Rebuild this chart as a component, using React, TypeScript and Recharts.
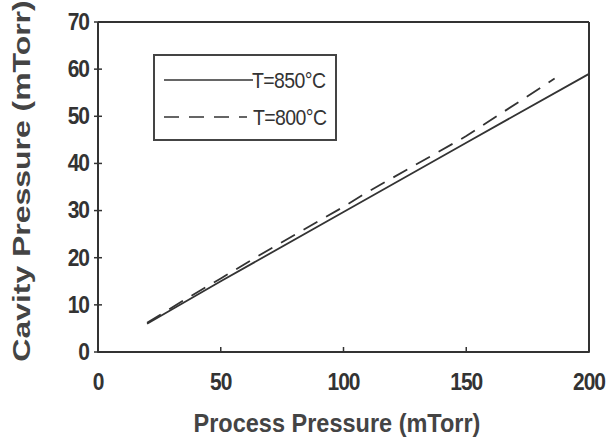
import React from 'react'
import {
  LineChart,
  Line,
  XAxis,
  YAxis,
  ReferenceLine
} from 'recharts'

// valores
const xTicks = [0, 50, 100, 150, 200]
const yTicks = [0, 10, 20, 30, 40, 50, 60, 70]

const solidX = [20, 50, 100, 150, 200]
const solidY = [6, 15, 29.7, 44.4, 59]

const dashX = [20, 35, 50, 65, 100, 110, 150, 186]
const dashY = [6.2, 11, 15.6, 20.3, 30.8, 34, 45.8, 58]

const s850 = solidX.map((x, i) => ({ x, y: solidY[i] }))
const s800 = dashX.map((x, i) => ({ x, y: dashY[i] }))

const font = '"Liberation Sans", Arial, sans-serif'
const ink = '#333'

function YTick(props: any) {
  const { x, y, payload } = props
  return (
    <g>
      <line x1={x - 4} x2={x + 4} y1={y} y2={y} stroke={ink} strokeWidth={1.5} />
      <text
        transform={`translate(${x - 9},${y}) scale(1,1.12)`}
        textAnchor='end'
        dominantBaseline='central'
        fontFamily={font}
        fontWeight='bold'
        fontSize={21}
        letterSpacing={-1}
        fill={ink}
      >
        {payload.value}
      </text>
    </g>
  )
}

function XTick(props: any) {
  const { x, y, payload } = props
  return (
    <g>
      <line x1={x} x2={x} y1={y - 5} y2={y + 1} stroke={ink} strokeWidth={1.5} />
      <text
        transform={`translate(${x},${y + 30}) scale(1,1.12)`}
        textAnchor='middle'
        dominantBaseline='central'
        fontFamily={font}
        fontWeight='bold'
        fontSize={21}
        letterSpacing={-1}
        fill={ink}
      >
        {payload.value}
      </text>
    </g>
  )
}

function LegendBox() {
  const label = (tx: number, ty: number, s: string) => (
    <text
      transform={`translate(${tx},${ty}) scale(1,1.1)`}
      dominantBaseline='central'
      fontFamily={font}
      fontSize={19.5}
      letterSpacing={-0.6}
      fill={ink}
    >
      {s}
    </text>
  )
  return (
    <div
      style={{
        position: 'absolute',
        left: 153,
        top: 54,
        width: 180,
        height: 83,
        border: '2px solid #444',
        background: '#fff'
      }}
    >
      <svg width={180} height={83} style={{ display: 'block' }}>
        <line x1={9} x2={98} y1={24} y2={24} stroke={ink} strokeWidth={1.5} />
        {label(97, 24, 'T=850°C')}
        <line x1={9} x2={92} y1={61} y2={61} stroke={ink} strokeWidth={1.5} strokeDasharray='15 10' />
        {label(98, 61, 'T=800°C')}
      </svg>
    </div>
  )
}

export default function App() {
  return (
    <div style={{ position: 'absolute', left: 0, top: 0, width: 609, height: 442, background: '#fff' }}>
      <LineChart
        width={609}
        height={442}
        margin={{ top: 22, right: 20, left: 38, bottom: 40 }}
      >
        <XAxis
          type='number'
          dataKey='x'
          domain={[0, 200]}
          ticks={xTicks}
          allowDataOverflow
          height={50}
          tickSize={0}
          tickMargin={0}
          tickLine={false}
          tick={<XTick />}
          axisLine={{ stroke: ink, strokeWidth: 2 }}
        />
        <YAxis
          type='number'
          dataKey='y'
          domain={[0, 70]}
          ticks={yTicks}
          width={60}
          tickSize={0}
          tickMargin={0}
          tickLine={false}
          tick={<YTick />}
          axisLine={{ stroke: ink, strokeWidth: 2 }}
        />
        <ReferenceLine y={70} stroke={ink} strokeWidth={2} />
        <ReferenceLine x={200} stroke={ink} strokeWidth={2} />
        <Line
          data={s850}
          dataKey='y'
          name='T=850°C'
          type='linear'
          stroke={ink}
          strokeWidth={1.8}
          dot={false}
          isAnimationActive={false}
        />
        <Line
          data={s800}
          dataKey='y'
          name='T=800°C'
          type='linear'
          stroke={ink}
          strokeWidth={1.8}
          strokeDasharray='16 10'
          dot={false}
          isAnimationActive={false}
        />
      </LineChart>
      <LegendBox />
      <div
        style={{
          position: 'absolute',
          left: 337,
          top: 424,
          transform: 'translate(-50%, -50%) scale(1, 1.1)',
          whiteSpace: 'nowrap',
          fontFamily: font,
          fontWeight: 'bold',
          fontSize: 23.5,
          color: '#444'
        }}
      >
        Process Pressure (mTorr)
      </div>
      <div
        style={{
          position: 'absolute',
          left: 22,
          top: 181,
          transform: 'translate(-50%, -50%) rotate(-90deg) scale(1.33, 1)',
          whiteSpace: 'nowrap',
          fontFamily: font,
          fontWeight: 'bold',
          fontSize: 24,
          color: '#444'
        }}
      >
        Cavity Pressure (mTorr)
      </div>
    </div>
  )
}
